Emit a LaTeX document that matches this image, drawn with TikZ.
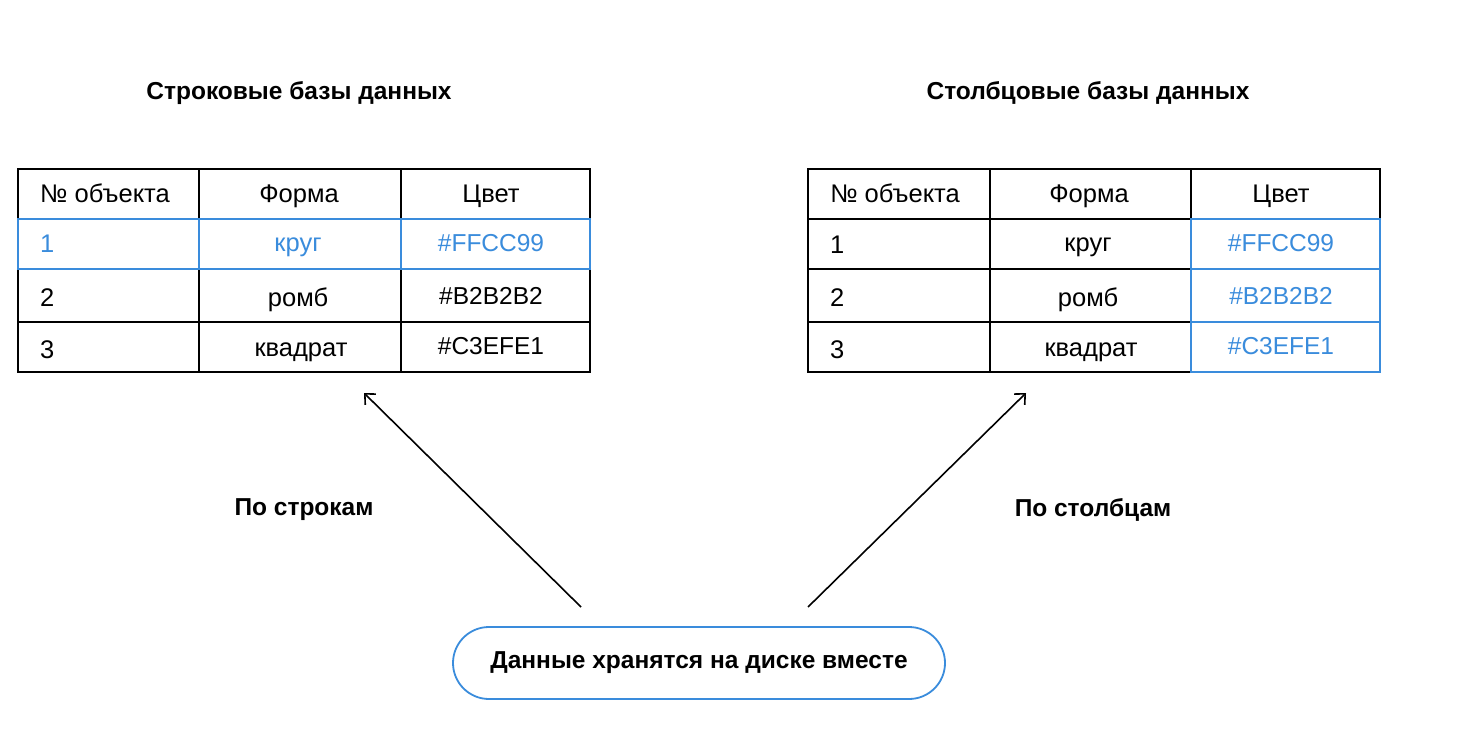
\documentclass[tikz,border=0pt]{standalone}
\usepackage{fontspec}
\setmainfont{Liberation Sans}
\usetikzlibrary{arrows.meta}
\definecolor{hl}{RGB}{58,140,220}
\tikzset{
  grid/.style={draw=black, line width=1.6pt},
  hlgrid/.style={draw=hl, line width=1.6pt},
  cell/.style={font=\fontsize{25.5}{30}\selectfont, inner sep=0pt, anchor=base},
  hex/.style={cell, font=\fontsize{24.5}{30}\selectfont},
  title/.style={font=\fontsize{24.5}{29}\selectfont\bfseries, inner sep=0pt},
  pill/.style={draw=hl, line width=1.8pt, rounded corners=36pt, minimum width=492pt, minimum height=72pt, font=\fontsize{24.5}{29}\selectfont\bfseries},
  conn/.style={draw=black, line width=1.6pt, -{Straight Barb[length=8pt,width=15pt]}},
}
\begin{document}
\begin{tikzpicture}[x=1pt,y=-1pt]
\useasboundingbox (0,0) rectangle (1458,738);
\fill[white] (0,0) rectangle (1458,738);

% titles
\node[title] (t1) at (299,93) {Строковые базы данных};
\node[title] (t2) at (1088,93) {Столбцовые базы данных};

% left table
\draw[grid] (18,169) rectangle (590,372);
\foreach \x in {199,401} \draw[grid] (\x,169) -- (\x,372);
\foreach \y in {219,269,322} \draw[grid] (18,\y) -- (590,\y);
\draw[hlgrid] (18,219) rectangle (590,269);
\foreach \x in {199,401} \draw[hlgrid] (\x,219) -- (\x,269);

\node[cell] (l00) at (105,203) {№ объекта};
\node[cell] (l01) at (299,203) {Форма};
\node[cell] (l02) at (491,203) {Цвет};
\node[cell, anchor=base west, text=hl] (l10) at (40,252) {1};
\node[cell, text=hl] (l11) at (298,251) {круг};
\node[hex, text=hl] (l12) at (491,251) {\#FFCC99};
\node[cell, anchor=base west] (l20) at (40,306) {2};
\node[cell] (l21) at (298,306) {ромб};
\node[hex] (l22) at (491,304) {\#B2B2B2};
\node[cell, anchor=base west] (l30) at (40,358) {3};
\node[cell] (l31) at (301,356) {квадрат};
\node[hex] (l32) at (491,354) {\#C3EFE1};

% right table
\draw[grid] (808,169) rectangle (1380,372);
\foreach \x in {990,1191} \draw[grid] (\x,169) -- (\x,372);
\foreach \y in {219,269,322} \draw[grid] (808,\y) -- (1380,\y);
\draw[hlgrid] (1191,219) rectangle (1380,372);
\foreach \y in {269,322} \draw[hlgrid] (1191,\y) -- (1380,\y);

\node[cell] (r00) at (895,203) {№ объекта};
\node[cell] (r01) at (1089,203) {Форма};
\node[cell] (r02) at (1281,203) {Цвет};
\node[cell, anchor=base west] (r10) at (830,253) {1};
\node[cell] (r11) at (1088,251) {круг};
\node[hex, text=hl] (r12) at (1281,251) {\#FFCC99};
\node[cell, anchor=base west] (r20) at (830,306) {2};
\node[cell] (r21) at (1088,306) {ромб};
\node[hex, text=hl] (r22) at (1281,304) {\#B2B2B2};
\node[cell, anchor=base west] (r30) at (830,358) {3};
\node[cell] (r31) at (1091,356) {квадрат};
\node[hex, text=hl] (r32) at (1281,354) {\#C3EFE1};

% bottom pill
\node[pill] (disk) at (699,663) {Данные хранятся на диске вместе};

% arrows
\coordinate (ls) at (581,607);
\coordinate (le) at (364,393);
\coordinate (rs) at (808,607);
\coordinate (re) at (1026,393);
\draw[conn] (ls) -- (le);
\draw[conn] (rs) -- (re);

\node[title] (lbl1) at (304,510) {По строкам};
\node[title] (lbl2) at (1093,510) {По столбцам};
\end{tikzpicture}
\end{document}
